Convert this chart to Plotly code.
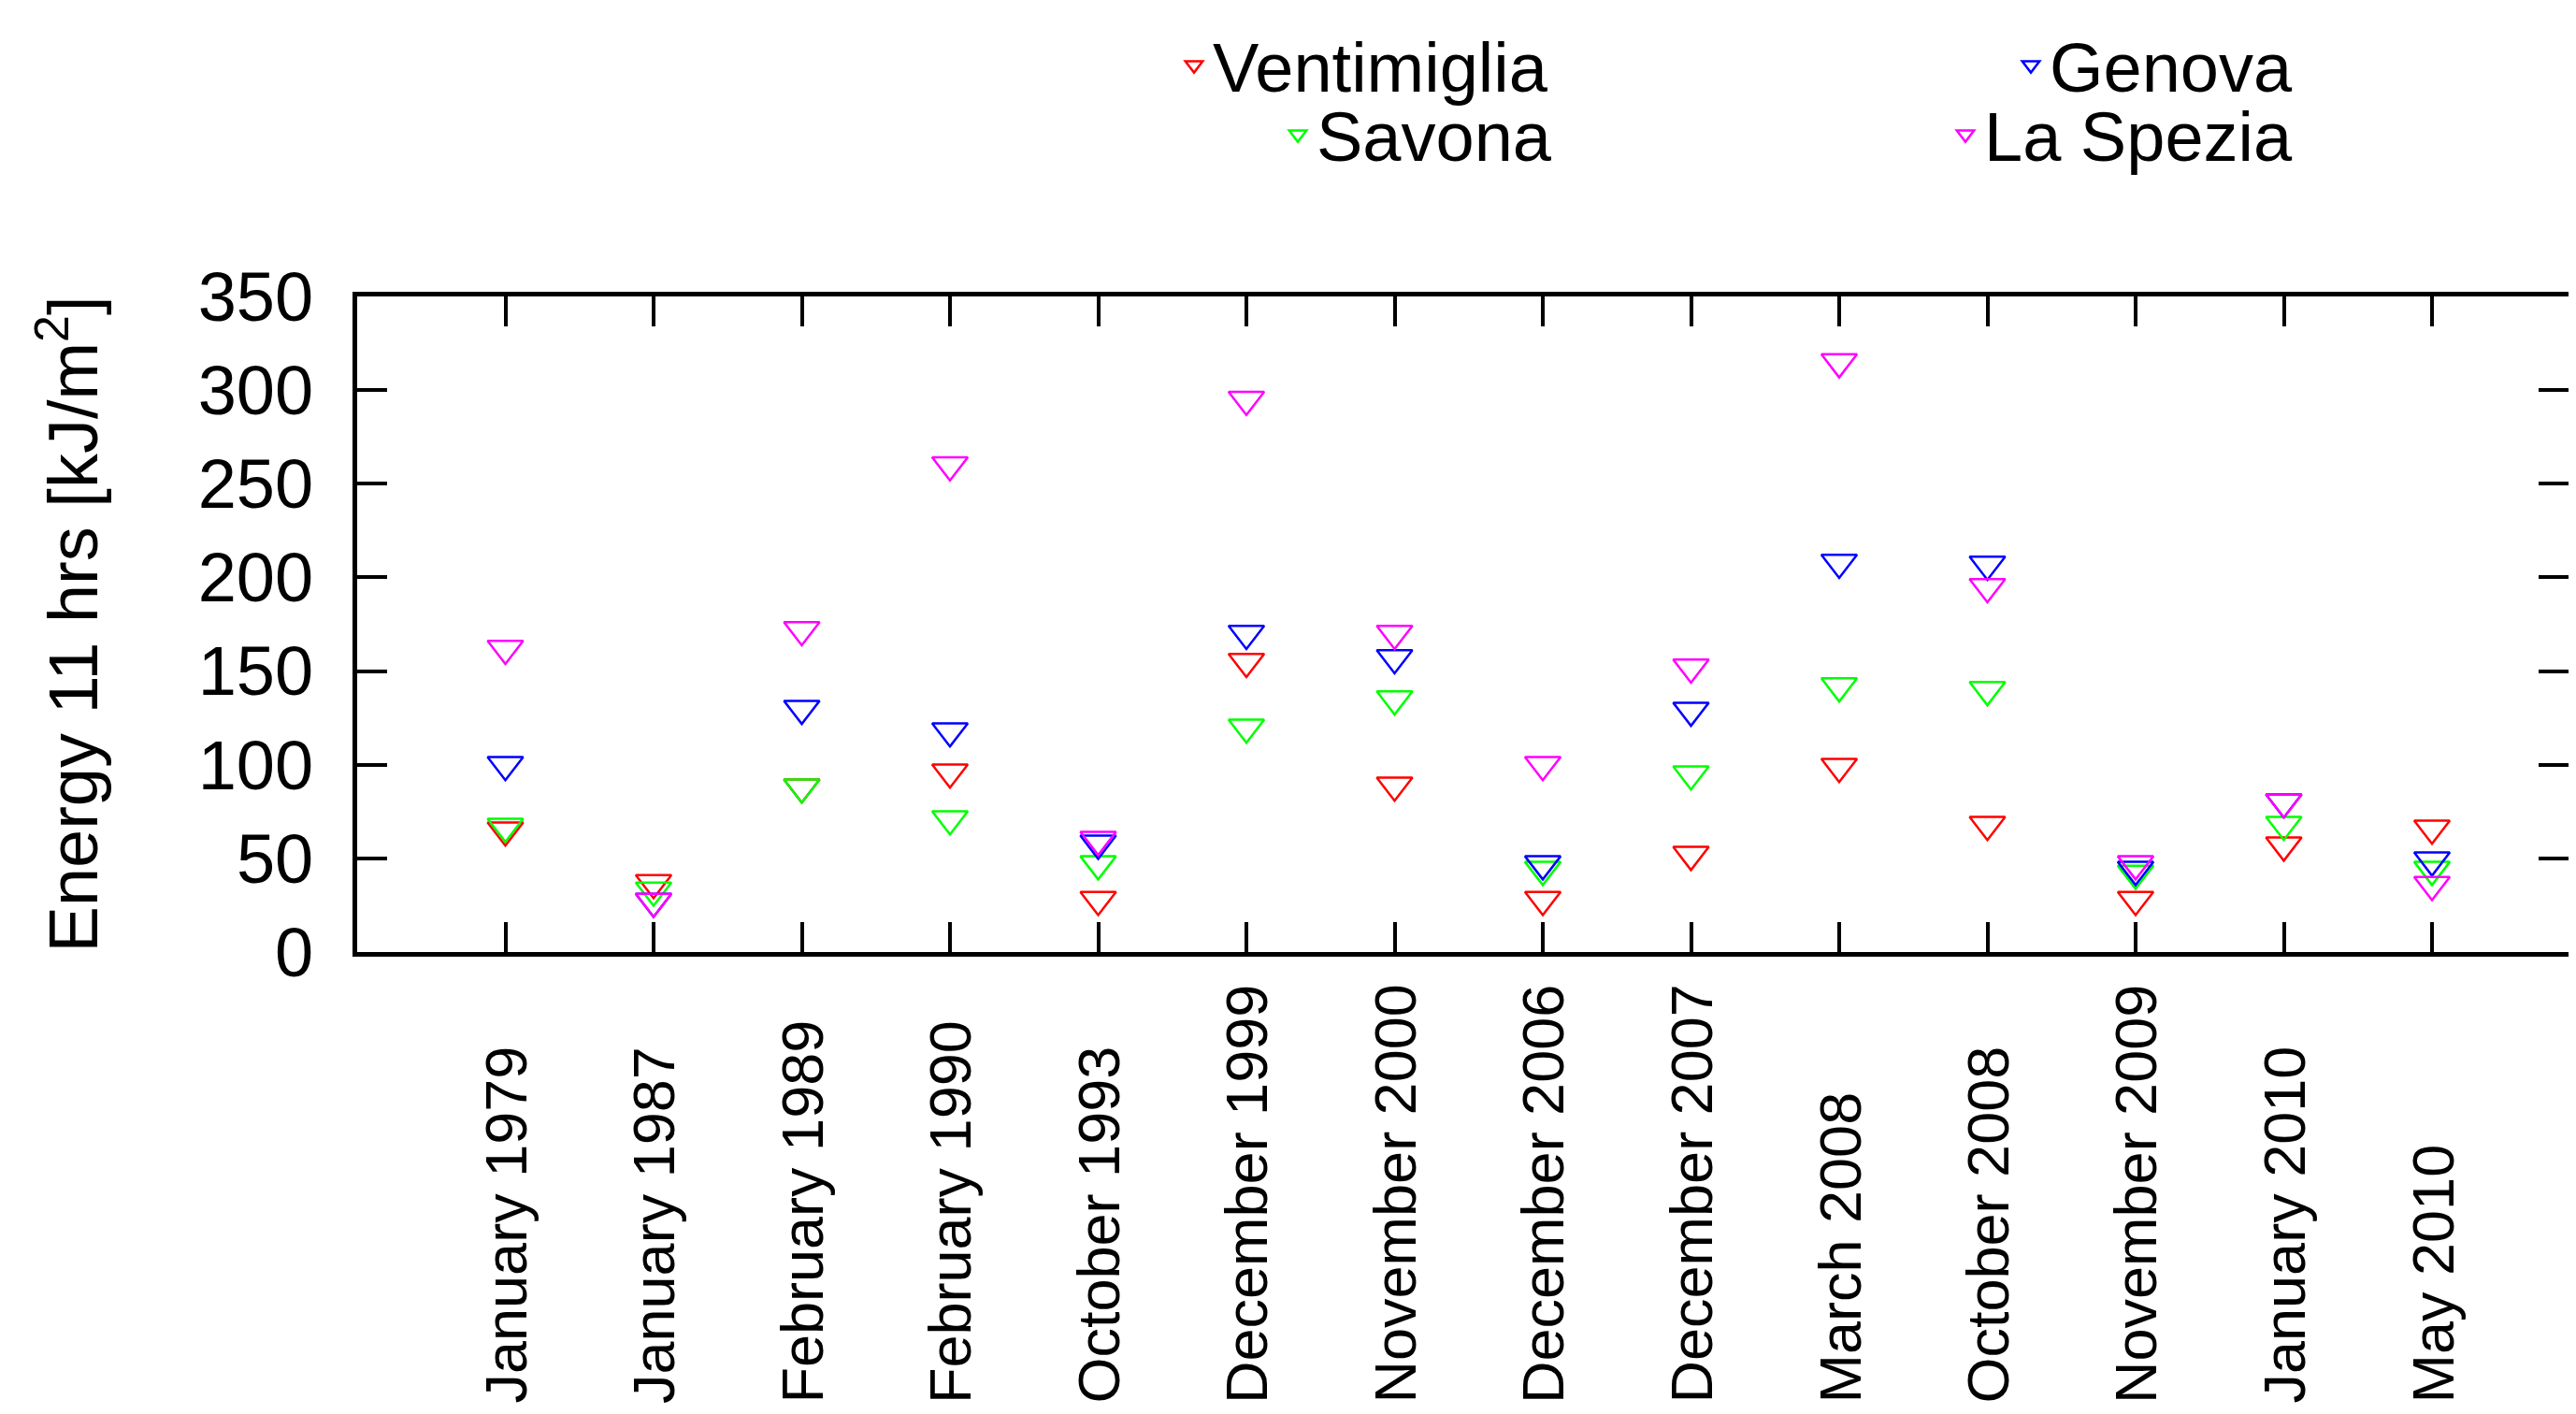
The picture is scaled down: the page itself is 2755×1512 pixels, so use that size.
import plotly.graph_objects as go

categories = ["January 1979", "January 1987", "February 1989", "February 1990",
              "October 1993", "December 1999", "November 2000", "December 2006",
              "December 2007", "March 2008", "October 2008", "November 2009",
              "January 2010", "May 2010"]

ventimiglia = [65, 37, 88, 96, 28, 155, 89, 28, 52, 99, 68, 28, 57, 66]
savona      = [67, 33, 88, 71, 47, 120, 135, 44, 95, 142, 140, 42, 68, 44]
genova      = [100, 27, 130, 118, 58, 170, 157, 47, 129, 208, 207, 44, 80, 49]
la_spezia   = [162, 27, 172, 260, 60, 295, 170, 100, 152, 315, 195, 47, 80, 36]

y_ticks = [0, 50, 100, 150, 200, 250, 300, 350]

series = [
    ("Ventimiglia", ventimiglia, "#ff0000", "legend"),
    ("Savona", savona, "#00ff00", "legend2"),
    ("Genova", genova, "#0000ff", "legend3"),
    ("La Spezia", la_spezia, "#ff00ff", "legend4"),
]

FONT = "Liberation Sans, Arial, Helvetica, sans-serif"
FS = 74
FS_X = 63

OFF = 8                      # page body margin
W, H = 2755 - 2 * OFF, 1512 - 2 * OFF
L, T = 382 - OFF, 317 - OFF
B = H - (1018 - OFF)
R = 0
PW = W - L - R
PH = H - T - B
SPACING = 158.5              # px per category

def sx_to_xpaper(sx):
    return (sx - OFF - L) / PW

def sy_to_ypaper(sy):
    return (H - B - (sy - OFF)) / PH

fig = go.Figure()
for name, vals, col, lg in series:
    fig.add_trace(go.Scatter(
        x=categories, y=vals, mode="markers", name=name, legend=lg,
        marker=dict(symbol="triangle-down-open", size=33, color=col,
                    line=dict(width=2.5, color=col)),
    ))

# legend placements (text start on screen, row centre on screen)
legend_pos = {
    "legend": (1299, 70),
    "legend2": (1410, 144),
    "legend3": (2194, 70),
    "legend4": (2124, 144),
}
layout_legends = {}
for key, (tx, ty) in legend_pos.items():
    layout_legends[key] = dict(
        x=sx_to_xpaper(tx - 42), y=sy_to_ypaper(ty), xanchor="left", yanchor="middle",
        font=dict(family=FONT, size=FS, color="black"), bgcolor="rgba(0,0,0,0)",
        borderwidth=0, itemwidth=30,
    )

annotations = []
for c in categories:
    annotations.append(dict(
        x=c, y=sy_to_ypaper(1503), xref="x", yref="paper", text=c, showarrow=False,
        textangle=-90, xanchor="center", yanchor="bottom",
        font=dict(family=FONT, size=FS_X, color="black"),
    ))

fig.update_layout(
    width=W, height=H,
    margin=dict(l=L, r=R, t=T, b=B, autoexpand=False),
    paper_bgcolor="white", plot_bgcolor="white",
    showlegend=True,
    annotations=annotations,
    **layout_legends,
)

fig.update_xaxes(
    type="category", categoryorder="array", categoryarray=categories,
    range=[-1, -1 + PW / SPACING], showticklabels=False,
    ticks="inside", ticklen=32, tickwidth=4, tickcolor="black",
    showline=True, linewidth=5, linecolor="black", mirror="allticks",
    showgrid=False, zeroline=False,
)
fig.update_yaxes(
    range=[0, 350], tickvals=y_ticks, ticktext=[str(v) for v in y_ticks],
    ticks="inside", ticklen=32, tickwidth=4, tickcolor="black",
    showline=True, linewidth=5, linecolor="black", mirror="allticks",
    showgrid=False, zeroline=False,
    tickfont=dict(family=FONT, size=FS, color="black"),
    ticklabelstandoff=27,
    title=dict(text="Energy 11 hrs [kJ/m<sup>2</sup>]", standoff=84,
               font=dict(family=FONT, size=FS, color="black")),
    automargin=False,
)

fig.write_html("out.html")
